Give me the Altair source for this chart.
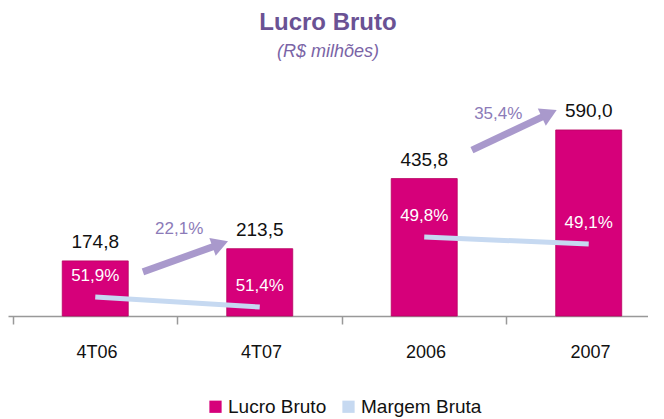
import math
import altair as alt
import pandas as pd

# ---- data ----
categories = ["4T06", "4T07", "2006", "2007"]
lucro_bruto = [174.8, 213.5, 435.8, 590.0]
margem_bruta = [51.9, 51.4, 49.8, 49.1]
segment = [0, 0, 1, 1]
growth_labels = ["22,1%", "35,4%"]
# growth arrows (annotation anchors, in category index / R$ units)
arrow_x0 = [0.29, 2.29]
arrow_x1 = [0.76, 2.76]
arrow_y0 = [140, 526]
arrow_y1 = [228, 642]
arrow_lx = [0.51, 2.45]
arrow_ly = [276, 641]

def br(v, d=1):
    return f"{v:.{d}f}".replace(".", ",")

df = pd.DataFrame({
    "idx": list(range(len(categories))),
    "cat": categories,
    "lucro": lucro_bruto,
    "lucro_lbl": [br(v) for v in lucro_bruto],
    "margem": margem_bruta,
    "margem_lbl": [br(v) + "%" for v in margem_bruta],
    "seg": segment,
    "serie": ["Lucro Bruto"] * len(categories),
})

W, H = 640, 216
X_DOM = [-0.5, 3.33]
Y_DOM = [0, 685]
px_x = W / (X_DOM[1] - X_DOM[0])
px_y = H / (Y_DOM[1] - Y_DOM[0])

arrows = pd.DataFrame({
    "x0": arrow_x0, "x1": arrow_x1, "y0": arrow_y0, "y1": arrow_y1,
    "lx": arrow_lx, "ly": arrow_ly, "lbl": growth_labels,
})
arrows["ang"] = [
    (-math.degrees(math.atan2((b - a) * px_y, (d - c) * px_x))) % 360
    for a, b, c, d in zip(arrows.y0, arrows.y1, arrows.x0, arrows.x1)
]

FONT = "Liberation Sans"
MAGENTA = "#d6007a"
LIGHTBLUE = "#c6d9f1"
ARROW = "#a999cc"

label_expr = " : ".join(
    f"datum.value == {i - 0.5} ? '{c}'" for i, c in enumerate(categories)
) + " : ''"

x_axis = alt.Axis(
    values=[i - 0.5 for i in range(len(categories))],
    labelExpr=label_expr, labelOffset=px_x / 2, labelFlush=False,
    labelOverlap=False, labelBound=False, title=None, grid=False,
    tickSize=8, tickColor="#999999", domainColor="#999999",
    labelFontSize=18, labelColor="#111111", labelFont=FONT, labelPadding=19,
    domainWidth=1.5, tickWidth=1.5,
)
x_scale = alt.Scale(domain=X_DOM, nice=False, zero=False)
x_enc = alt.X("idx:Q", scale=x_scale, axis=x_axis)
y_main = alt.Scale(domain=Y_DOM, nice=False)

base = alt.Chart(df)

bars = base.mark_bar(size=66, stroke="#b8005f", strokeWidth=0.8).encode(
    x=x_enc,
    y=alt.Y("lucro:Q", scale=y_main, axis=None),
    color=alt.Color(
        "serie:N",
        scale=alt.Scale(domain=["Lucro Bruto", "Margem Bruta"], range=[MAGENTA, LIGHTBLUE]),
        legend=alt.Legend(
            title=None, orient="none", direction="horizontal", legendX=198, legendY=297,
            symbolType="square", symbolSize=150, symbolStrokeWidth=0,
            labelFontSize=19, labelFont=FONT, labelColor="#111111", columnPadding=12,
            labelOffset=3,
        ),
    ),
)

val_text = base.mark_text(dy=-19, fontSize=19, font=FONT, color="#111111").encode(
    x=x_enc, y=alt.Y("lucro:Q", scale=y_main, axis=None), text="lucro_lbl:N"
)

seg_domains = {0: [50.95, 61.75], 1: [41.9, 63.5]}
line_layers = []
for s, dom in seg_domains.items():
    sub = alt.Chart(df[df.seg == s])
    yenc = alt.Y("margem:Q", scale=alt.Scale(domain=dom, nice=False, zero=False), axis=None)
    line_layers.append(sub.mark_line(color=LIGHTBLUE, strokeWidth=5).encode(x=x_enc, y=yenc))
    line_layers.append(
        sub.mark_text(dy=-21, fontSize=17, font=FONT, color="white").encode(
            x=x_enc, y=yenc, text="margem_lbl:N"
        )
    )

arr = alt.Chart(arrows)
arrow_shaft = arr.mark_rule(color=ARROW, strokeWidth=7).encode(
    x=alt.X("x0:Q", scale=x_scale, axis=x_axis),
    x2="x1:Q",
    y=alt.Y("y0:Q", scale=y_main, axis=None),
    y2="y1:Q",
)
arrow_head = arr.mark_point(shape="triangle-right", filled=True, size=360, color=ARROW, opacity=1).encode(
    x=alt.X("x1:Q", scale=x_scale, axis=x_axis),
    y=alt.Y("y1:Q", scale=y_main, axis=None),
    angle=alt.Angle("ang:Q", scale=None),
)
arrow_text = arr.mark_text(fontSize=17, font=FONT, color="#8c7bb8").encode(
    x=alt.X("lx:Q", scale=x_scale, axis=x_axis),
    y=alt.Y("ly:Q", scale=y_main, axis=None),
    text="lbl:N",
)

chart = alt.layer(
    bars, val_text, *line_layers, arrow_shaft, arrow_head, arrow_text
).resolve_scale(y="independent").properties(
    width=W, height=H,
    padding={"left": 0, "top": 3, "right": 0, "bottom": 0},
    background="white",
    title=alt.Title(
        "Lucro Bruto", subtitle="(R$ milhões)", anchor="middle",
        font=FONT, fontSize=24, fontWeight="bold", color="#6a5294",
        subtitleFont=FONT, subtitleFontSize=18, subtitleFontStyle="italic",
        subtitleColor="#7a64a6", subtitlePadding=8, offset=39,
    ),
).configure_view(strokeWidth=0, stroke="transparent")

chart.save("out.html", embed_options={"renderer": "svg", "actions": False})
